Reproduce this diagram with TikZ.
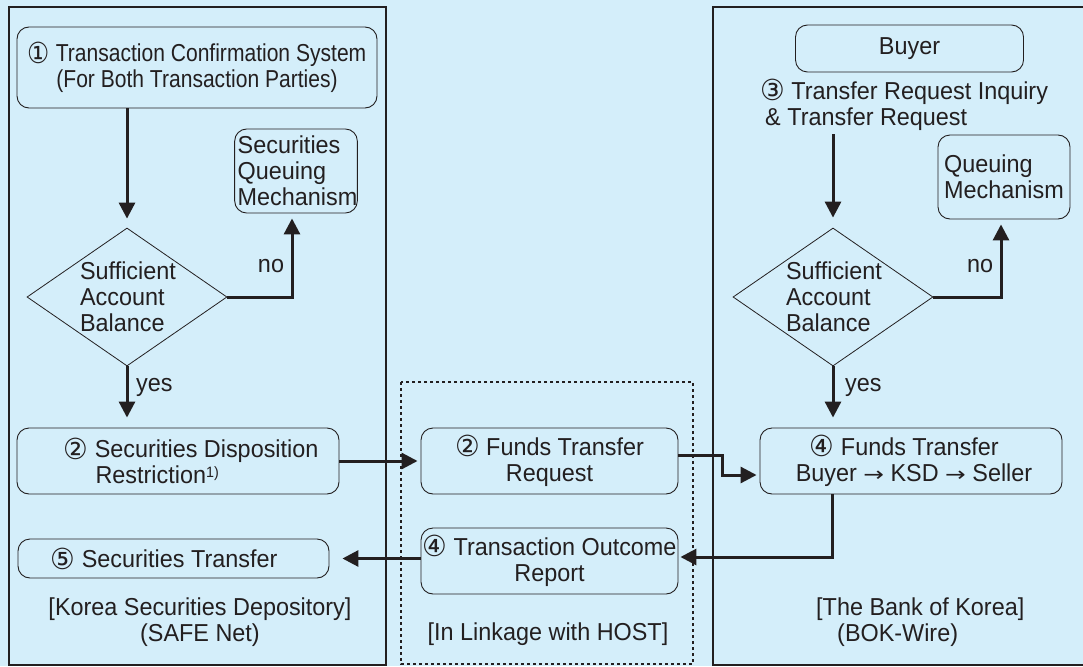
\documentclass[tikz,border=0pt]{standalone}
\usepackage{fontspec}
\setmainfont[FakeStretch=0.955]{Liberation Sans}
\newfontfamily\symf[FakeStretch=0.95]{DejaVu Sans}
\usetikzlibrary{arrows.meta,shapes.geometric,calc}
\definecolor{bg}{RGB}{212,238,250}
\definecolor{ink}{RGB}{35,31,32}
\newcommand{\cnum}[1]{{\symf\fontsize{29}{26}\selectfont\raisebox{-1.5pt}{#1}}}
\newcommand{\rarr}{ {\symf\fontsize{20}{20}\selectfont\scalebox{1.3}[1]{→}} }
\newcommand{\sq}[1]{\scalebox{0.9}[1]{#1}}
\begin{document}
\begin{tikzpicture}[x=1pt,y=-1pt,
  font=\fontsize{24.5}{26}\selectfont,
  box/.style={draw=ink, line width=0.9pt, rounded corners=12pt, align=center, inner sep=0pt, text=ink},
  frame/.style={draw=ink, line width=2.2pt},
  flow/.style={draw=ink, line width=3pt, -{Triangle[length=16pt,width=16pt]}},
  dia/.style={diamond, draw=ink, line width=0.8pt, inner sep=0pt, minimum width=200, minimum height=138},
  lbl/.style={text=ink, inner sep=0pt, align=center},
  lbll/.style={text=ink, inner sep=0pt, align=left},
]
\fill[bg] (0,0) rectangle (1083,666);
\useasboundingbox (0,0) rectangle (1083,666);
% frames
\draw[frame] (9,7) rectangle (386,665);
\draw[frame] (713,7) rectangle (1095,665);
\draw[draw=ink, line width=2pt, dash pattern=on 3pt off 3pt] (401,382) rectangle (693,664);
% left column
\node[box, minimum width=360, minimum height=81] (tcs) at (197,67.5) {\sq{\cnum{①} Transaction Confirmation System}\\\sq{(For Both Transaction Parties)}};
\node[box, minimum width=122, minimum height=84, align=left] (sq) at (296,171) {\hspace*{3pt}Securities\\\hspace*{3pt}Queuing\\\hspace*{3pt}Mechanism};
\node[dia] (d1) at (127,297) {};
\node[lbll] (d1t) at (128,297) {Sufficient\\Account\\Balance};
\node[box, minimum width=322, minimum height=66, align=left] (sdr) at (178,461) {\hspace*{26pt}\cnum{②} Securities Disposition\\\hspace*{26pt}\hspace*{32pt}Restriction{\fontsize{15}{15}\selectfont\raisebox{6pt}{1)}}};
\node[box, minimum width=311, minimum height=39] (st) at (173.5,558.5) {\cnum{⑤} Securities Transfer\hspace*{19pt}};
\node[lbl] (ksd) at (200,622) {[Korea Securities Depository]\\(SAFE Net)};
% middle
\node[box, minimum width=257, minimum height=66] (ftr) at (549.5,461) {\cnum{②} Funds Transfer\\Request};
\node[box, minimum width=257, minimum height=66] (tor) at (549.5,561) {\cnum{④} Transaction Outcome\\Report};
\node[lbl] (host) at (548,634) {[In Linkage with HOST]};
% right column
\node[box, minimum width=228, minimum height=47] (buy) at (909.5,48.5) {Buyer};
\node[lbll, anchor=north west] (req) at (760,79) {\cnum{③} Transfer Request Inquiry\\\hspace*{5pt}\& Transfer Request};
\node[box, minimum width=132, minimum height=84, align=left] (qm) at (1004,177) {Queuing\\Mechanism};
\node[dia] (d2) at (833,297) {};
\node[lbll] (d2t) at (834,297) {Sufficient\\Account\\Balance};
\node[box, minimum width=302, minimum height=66, align=left] (bft) at (911,461) {\hspace*{20pt}\cnum{④} Funds Transfer\\\hspace*{6pt}Buyer\rarr KSD\rarr Seller};
\node[lbll, anchor=north west] (bok) at (816,598) {[The Bank of Korea]\\\hspace*{21pt}(BOK-Wire)};
% connectors left
\coordinate (k1) at (722,455);
\draw[flow, shorten >=9pt] (tcs.south -| d1.north) -- (d1.north);
\draw[flow, shorten >=5pt] (d1.east) -| ([xshift=-4]sq.south);
\node[lbl, anchor=base] (no1) at (271,272) {no};
\draw[flow, shorten >=10pt] (d1.south) -- (sdr.north -| d1.south);
\node[lbl, anchor=base west] (yes1) at (136,391) {yes};
\draw[flow, shorten >=3pt] (sdr.east) -- (ftr.west);
\draw[flow, shorten >=3pt] (ftr.east |- k1) -- (k1) |- ([yshift=-14]bft.west);
\draw[flow, shorten >=2pt] ([xshift=-79]bft.south) |- ([yshift=4]tor.east);
\draw[flow, shorten >=13pt] (st.east -| tor.west) -- (st.east);
% connectors right
\draw[flow, shorten <=4pt, shorten >=10pt] (req.south -| d2.north) -- (d2.north);
\draw[flow, shorten >=5pt] (d2.east) -| ([xshift=-3]qm.south);
\node[lbl, anchor=base] (no2) at (980,272) {no};
\draw[flow, shorten >=10pt] (d2.south) -- (bft.north -| d2.south);
\node[lbl, anchor=base west] (yes2) at (845,391) {yes};
\end{tikzpicture}
\end{document}
